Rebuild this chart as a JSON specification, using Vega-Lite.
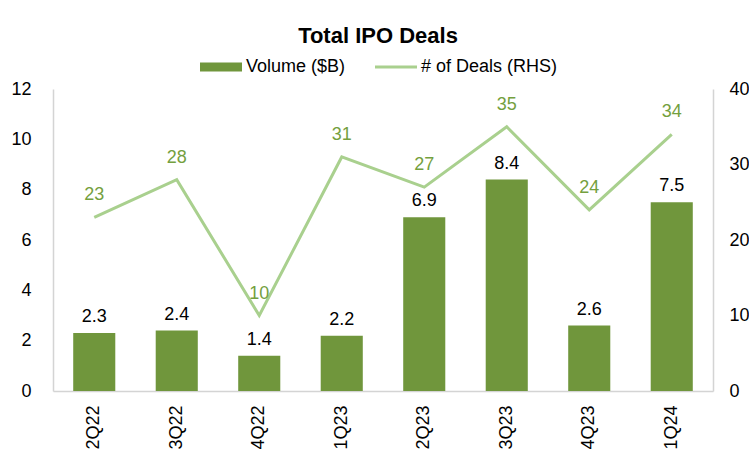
{
  "$schema": "https://vega.github.io/schema/vega-lite/v6.json",
  "width": 660,
  "height": 302,
  "autosize": {"type": "none"},
  "padding": {"left": 53, "top": 89, "right": 36, "bottom": 65},
  "background": "white",
  "config": {
    "font": "Liberation Sans",
    "view": {"stroke": null},
    "axis": {"grid": false, "ticks": false, "domainColor": "#D4D4D4", "domainWidth": 1.5, "labelFontSize": 18, "labelColor": "#000000", "title": null}
  },
  "title": {"text": "Total IPO Deals", "fontSize": 22, "fontWeight": "bold", "color": "#000000", "anchor": "middle", "offset": 10, "dx": -5},
  "data": {"values": [
    {"q": "2Q22", "vol": 2.3, "deals": 23},
    {"q": "3Q22", "vol": 2.4, "deals": 28},
    {"q": "4Q22", "vol": 1.4, "deals": 10},
    {"q": "1Q23", "vol": 2.2, "deals": 31},
    {"q": "2Q23", "vol": 6.9, "deals": 27},
    {"q": "3Q23", "vol": 8.4, "deals": 35},
    {"q": "4Q23", "vol": 2.6, "deals": 24},
    {"q": "1Q24", "vol": 7.5, "deals": 34}
  ]},
  "encoding": {
    "x": {"field": "q", "type": "nominal", "sort": null,
      "scale": {"paddingInner": 0.49, "paddingOuter": 0.245},
      "axis": {"labelAngle": -90, "labelPadding": 14}}
  },
  "layer": [
    {
      "encoding": {
        "y": {"field": "vol", "type": "quantitative",
          "scale": {"domain": [0, 12], "nice": false},
          "axis": {"values": [0, 2, 4, 6, 8, 10, 12], "labelPadding": 22}}
      },
      "layer": [
        {
          "mark": {"type": "bar"},
          "encoding": {
            "color": {"datum": "Volume ($B)", "type": "nominal",
              "scale": {"domain": ["Volume ($B)", "# of Deals (RHS)"], "range": ["#70963C", "#A9D08E"]},
              "legend": {
                "orient": "none", "legendX": 159, "legendY": -31, "direction": "horizontal",
                "title": null, "labelFontSize": 18, "labelColor": "#000000", "labelOffset": 16,
                "columnPadding": 23, "symbolSize": 1764, "padding": 0,
                "encode": {"symbols": {"update": {
                  "shape": {"signal": "datum.value === 'Volume ($B)' ? 'M-1,-0.21H1V0.21H-1Z' : 'M-1,0H1'"},
                  "fill": {"signal": "datum.value === 'Volume ($B)' ? '#70963C' : 'transparent'"},
                  "stroke": {"signal": "datum.value === 'Volume ($B)' ? 'transparent' : '#A9D08E'"},
                  "strokeWidth": {"signal": "datum.value === 'Volume ($B)' ? 0 : 3"},
                  "opacity": {"value": 1}
                }}}
              }
            }
          }
        },
        {
          "mark": {"type": "text", "baseline": "alphabetic", "dy": -11, "fontSize": 18, "color": "#000000"},
          "encoding": {"text": {"field": "vol", "type": "quantitative", "format": ".1f"}}
        }
      ]
    },
    {
      "encoding": {
        "y": {"field": "deals", "type": "quantitative",
          "scale": {"domain": [0, 40], "nice": false},
          "axis": {"orient": "right", "values": [0, 10, 20, 30, 40], "labelPadding": 16}}
      },
      "layer": [
        {
          "mark": {"type": "line", "strokeWidth": 3},
          "encoding": {
            "color": {"datum": "# of Deals (RHS)", "type": "nominal"}
          }
        },
        {
          "mark": {"type": "text", "baseline": "alphabetic", "dy": -17, "fontSize": 18, "color": "#74A03E"},
          "encoding": {"text": {"field": "deals", "type": "quantitative"}}
        }
      ]
    }
  ],
  "resolve": {"scale": {"y": "independent"}}
}
